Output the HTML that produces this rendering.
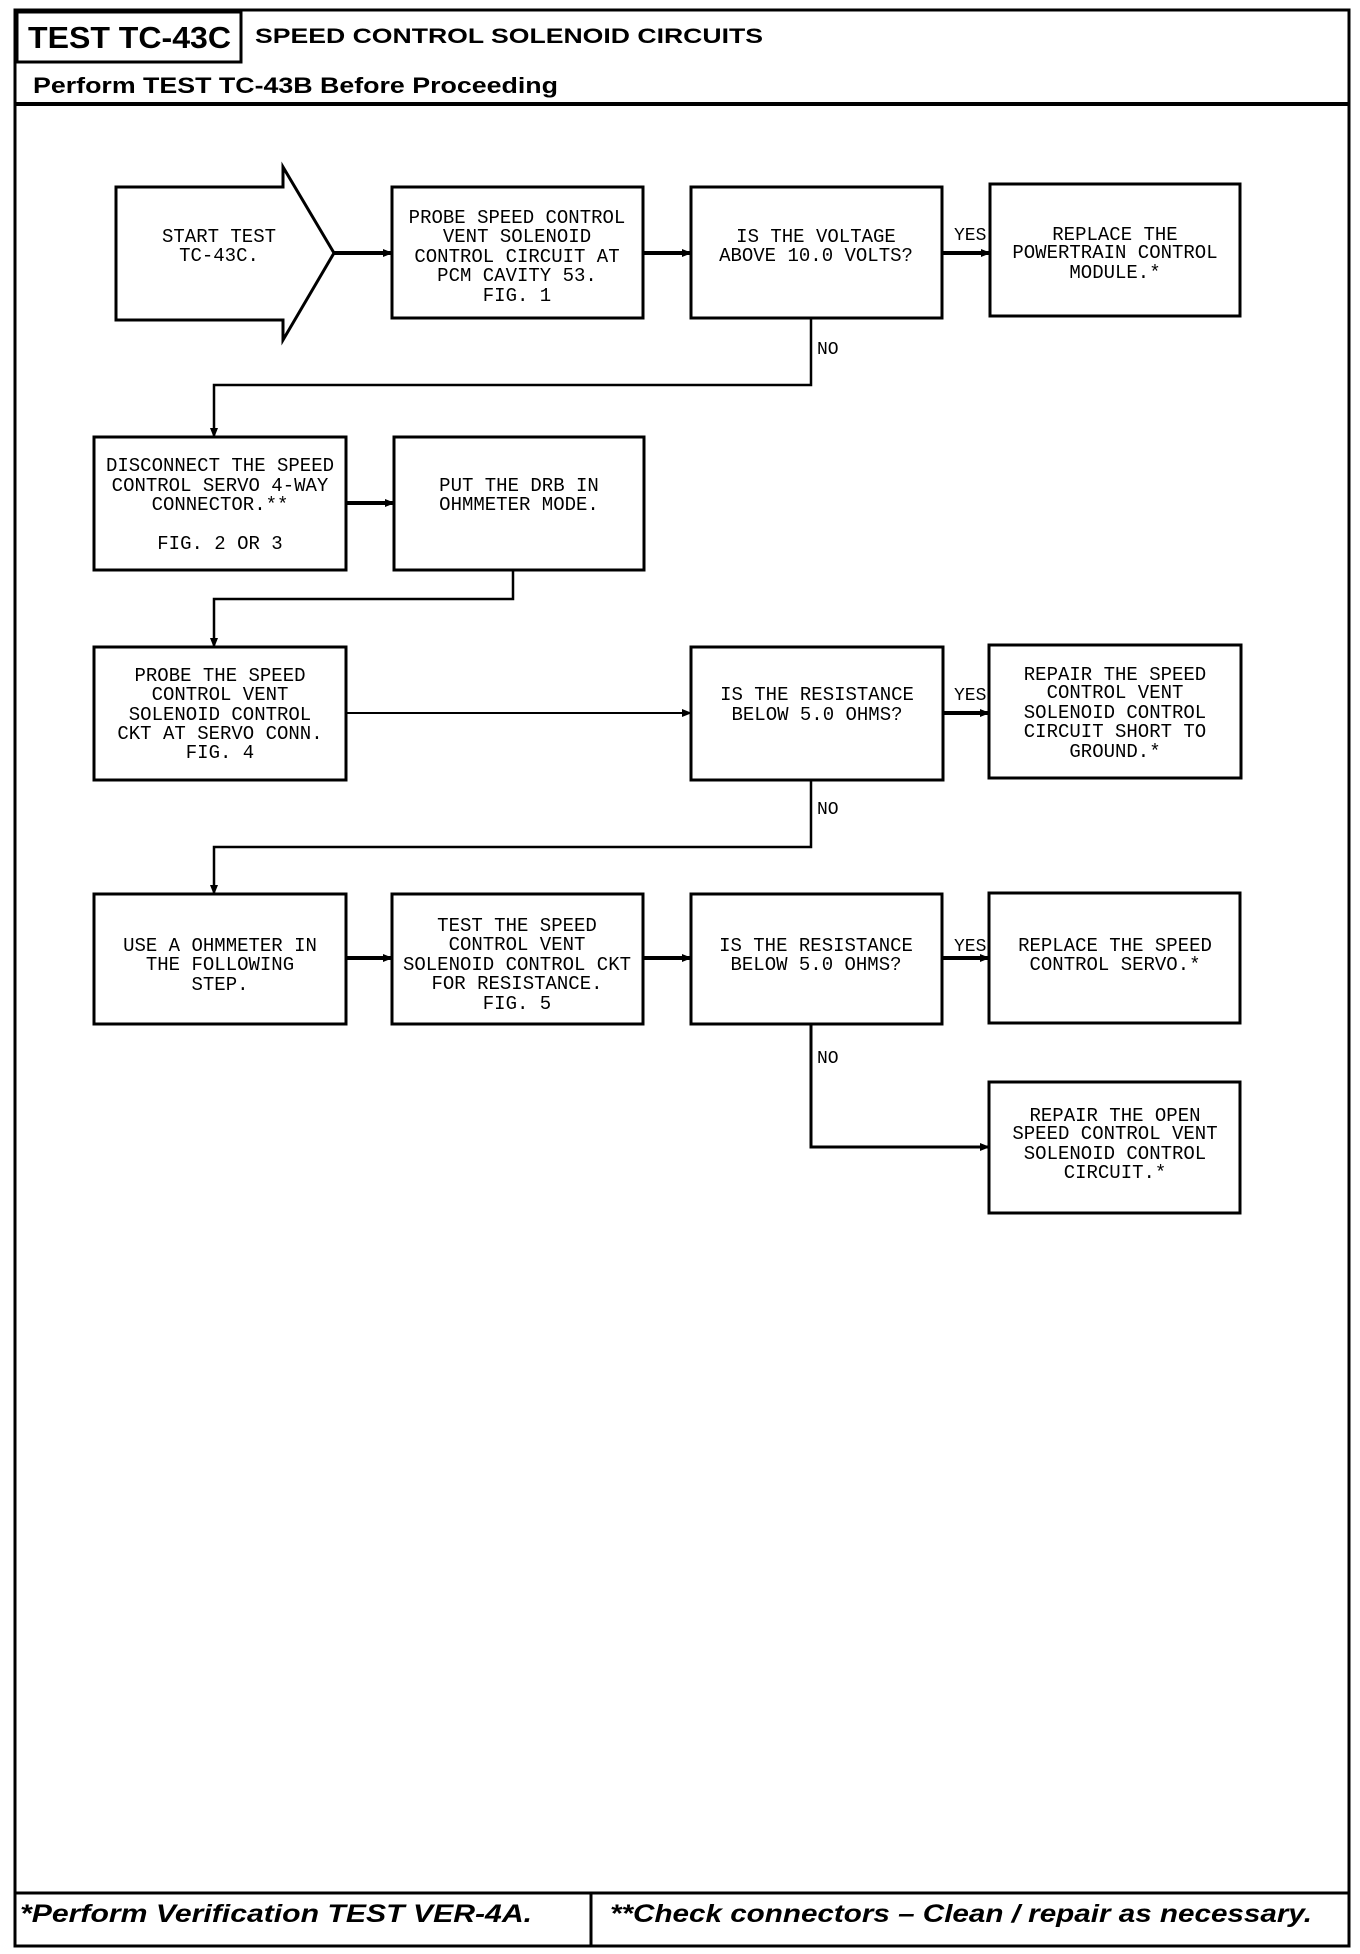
<!DOCTYPE html>
<html><head><meta charset="utf-8"><style>
html,body{margin:0;padding:0;background:#fff;}
svg{display:block;}
.m{font-family:"Liberation Mono",monospace;font-size:19px;text-anchor:middle;fill:#000;}
.l{font-family:"Liberation Mono",monospace;font-size:18px;fill:#000;}
</style></head><body>
<svg width="1360" height="1954" viewBox="0 0 1360 1954" xmlns="http://www.w3.org/2000/svg">
<defs><marker id="a" markerWidth="10" markerHeight="8" refX="9" refY="4" orient="auto" markerUnits="userSpaceOnUse"><path d="M0,0 L10,4 L0,8 z" fill="#000"/></marker></defs>
<g fill="none" stroke="#000" stroke-width="3">
<rect x="15" y="10" width="1334" height="1936"/>
<rect x="17" y="12" width="224" height="50"/>
<line x1="15" y1="104" x2="1349" y2="104" stroke-width="4"/>
<line x1="15" y1="1893" x2="1349" y2="1893"/>
<line x1="591" y1="1893" x2="591" y2="1946"/>
<!-- start arrow -->
<path d="M283,187 L116,187 L116,320 L283,320 L283,340 L334,253 L283,167 Z" stroke-width="3"/>
<rect x="392" y="187" width="251" height="131"/>
<rect x="691" y="187" width="251" height="131"/>
<rect x="990" y="184" width="250" height="132"/>
<rect x="94" y="437" width="252" height="133"/>
<rect x="394" y="437" width="250" height="133"/>
<rect x="94" y="647" width="252" height="133"/>
<rect x="691" y="647" width="252" height="133"/>
<rect x="989" y="645" width="252" height="133"/>
<rect x="94" y="894" width="252" height="130"/>
<rect x="392" y="894" width="251" height="130"/>
<rect x="691" y="894" width="251" height="130"/>
<rect x="989" y="893" width="251" height="130"/>
<rect x="989" y="1082" width="251" height="131"/>
<!-- connectors -->
<line x1="334" y1="253" x2="392" y2="253" marker-end="url(#a)" stroke-width="4"/>
<line x1="643" y1="253" x2="691" y2="253" marker-end="url(#a)" stroke-width="4"/>
<line x1="942" y1="253" x2="990" y2="253" marker-end="url(#a)" stroke-width="4"/>
<polyline points="811,318 811,385 214,385 214,437" marker-end="url(#a)" stroke-width="2.5"/>
<line x1="346" y1="503" x2="394" y2="503" marker-end="url(#a)" stroke-width="4"/>
<polyline points="513,570 513,599 214,599 214,647" marker-end="url(#a)" stroke-width="2.5"/>
<line x1="346" y1="713" x2="691" y2="713" marker-end="url(#a)" stroke-width="2"/>
<line x1="943" y1="713" x2="989" y2="713" marker-end="url(#a)" stroke-width="4"/>
<polyline points="811,780 811,847 214,847 214,894" marker-end="url(#a)" stroke-width="2.5"/>
<line x1="346" y1="958" x2="392" y2="958" marker-end="url(#a)" stroke-width="4"/>
<line x1="643" y1="958" x2="691" y2="958" marker-end="url(#a)" stroke-width="4"/>
<line x1="942" y1="958" x2="989" y2="958" marker-end="url(#a)" stroke-width="4"/>
<polyline points="811,1024 811,1147 989,1147" marker-end="url(#a)" stroke-width="3"/>
</g>
<g font-family="Liberation Sans, sans-serif" font-weight="bold" fill="#000">
<text x="28" y="48" font-size="31" textLength="203" lengthAdjust="spacingAndGlyphs">TEST TC-43C</text>
<text x="255" y="43" font-size="21" textLength="508" lengthAdjust="spacingAndGlyphs">SPEED CONTROL SOLENOID CIRCUITS</text>
<text x="33" y="93" font-size="22" textLength="525" lengthAdjust="spacingAndGlyphs">Perform TEST TC-43B Before Proceeding</text>
<text x="20" y="1922" font-size="25" font-style="italic" textLength="512" lengthAdjust="spacingAndGlyphs">*Perform Verification TEST VER-4A.</text>
<text x="610" y="1922" font-size="25" font-style="italic" textLength="702" lengthAdjust="spacingAndGlyphs">**Check connectors – Clean / repair as necessary.</text>
</g>
<g class="m">
<text x="219" y="242" class="m">START TEST</text><text x="219" y="261" class="m">TC-43C.</text>
<text x="517" y="223" class="m">PROBE SPEED CONTROL</text><text x="517" y="242" class="m">VENT SOLENOID</text><text x="517" y="262" class="m">CONTROL CIRCUIT AT</text><text x="517" y="281" class="m">PCM CAVITY 53.</text><text x="517" y="301" class="m">FIG. 1</text>
<text x="816" y="242" class="m">IS THE VOLTAGE</text><text x="816" y="261" class="m">ABOVE 10.0 VOLTS?</text>
<text x="1115" y="240" class="m">REPLACE THE</text><text x="1115" y="258" class="m">POWERTRAIN CONTROL</text><text x="1115" y="278" class="m">MODULE.*</text>
<text x="220" y="471" class="m">DISCONNECT THE SPEED</text><text x="220" y="491" class="m">CONTROL SERVO 4-WAY</text><text x="220" y="510" class="m">CONNECTOR.**</text><text x="220" y="549" class="m">FIG. 2 OR 3</text>
<text x="519" y="491" class="m">PUT THE DRB IN</text><text x="519" y="510" class="m">OHMMETER MODE.</text>
<text x="220" y="681" class="m">PROBE THE SPEED</text><text x="220" y="700" class="m">CONTROL VENT</text><text x="220" y="720" class="m">SOLENOID CONTROL</text><text x="220" y="739" class="m">CKT AT SERVO CONN.</text><text x="220" y="758" class="m">FIG. 4</text>
<text x="817" y="700" class="m">IS THE RESISTANCE</text><text x="817" y="720" class="m">BELOW 5.0 OHMS?</text>
<text x="1115" y="680" class="m">REPAIR THE SPEED</text><text x="1115" y="698" class="m">CONTROL VENT</text><text x="1115" y="718" class="m">SOLENOID CONTROL</text><text x="1115" y="737" class="m">CIRCUIT SHORT TO</text><text x="1115" y="757" class="m">GROUND.*</text>
<text x="220" y="951" class="m">USE A OHMMETER IN</text><text x="220" y="970" class="m">THE FOLLOWING</text><text x="220" y="990" class="m">STEP.</text>
<text x="517" y="931" class="m">TEST THE SPEED</text><text x="517" y="950" class="m">CONTROL VENT</text><text x="517" y="970" class="m">SOLENOID CONTROL CKT</text><text x="517" y="989" class="m">FOR RESISTANCE.</text><text x="517" y="1009" class="m">FIG. 5</text>
<text x="816" y="951" class="m">IS THE RESISTANCE</text><text x="816" y="970" class="m">BELOW 5.0 OHMS?</text>
<text x="1115" y="951" class="m">REPLACE THE SPEED</text><text x="1115" y="970" class="m">CONTROL SERVO.*</text>
<text x="1115" y="1121" class="m">REPAIR THE OPEN</text><text x="1115" y="1139" class="m">SPEED CONTROL VENT</text><text x="1115" y="1159" class="m">SOLENOID CONTROL</text><text x="1115" y="1178" class="m">CIRCUIT.*</text>
</g>
<text x="954" y="240" class="l">YES</text>
<text x="954" y="700" class="l">YES</text>
<text x="954" y="951" class="l">YES</text>
<text x="817" y="354" class="l">NO</text>
<text x="817" y="814" class="l">NO</text>
<text x="817" y="1063" class="l">NO</text>
</svg>
</body></html>
